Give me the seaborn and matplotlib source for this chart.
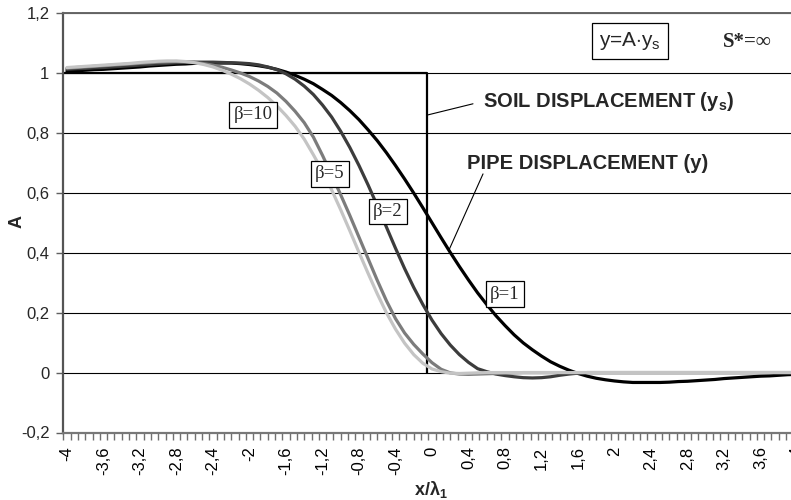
import matplotlib
matplotlib.use("Agg")
import matplotlib.pyplot as plt
import seaborn as sns

# ---------------- data ----------------
x_vals = [round(-4 + 0.1 * i, 1) for i in range(81)]   # x/lambda1 categories, -4 ... 4

y_beta1 = [1.006, 1.007, 1.009, 1.011, 1.012, 1.014, 1.016, 1.018, 1.020, 1.023,
           1.025, 1.027, 1.029, 1.030, 1.032, 1.033, 1.033, 1.033, 1.033, 1.031,
           1.028, 1.024, 1.019, 1.012, 1.003, 0.992, 0.979, 0.964, 0.945, 0.925,
           0.901, 0.874, 0.844, 0.810, 0.774, 0.734, 0.691, 0.646, 0.599, 0.550,
           0.500, 0.450, 0.401, 0.354, 0.309, 0.266, 0.227, 0.190, 0.157, 0.126,
           0.099, 0.076, 0.055, 0.036, 0.021, 0.008, -0.003, -0.012, -0.019, -0.024,
           -0.028, -0.031, -0.033, -0.033, -0.033, -0.033, -0.032, -0.030, -0.029, -0.027,
           -0.025, -0.023, -0.020, -0.018, -0.016, -0.014, -0.012, -0.011, -0.009, -0.007,
           -0.006]

y_beta2 = [1.012, 1.014, 1.015, 1.017, 1.018, 1.020, 1.022, 1.024, 1.026, 1.028,
           1.030, 1.032, 1.034, 1.035, 1.036, 1.036, 1.036, 1.035, 1.034, 1.033,
           1.031, 1.027, 1.020, 1.011, 0.997, 0.979, 0.956, 0.928, 0.893, 0.853,
           0.805, 0.751, 0.691, 0.626, 0.557, 0.486, 0.415, 0.347, 0.284, 0.227,
           0.175, 0.130, 0.092, 0.060, 0.034, 0.013, 0.003, -0.005, -0.010, -0.014,
           -0.017, -0.018, -0.017, -0.014, -0.009, -0.005, -0.002, 0.000, 0.000, 0.000,
           0.000, 0.000, 0.000, 0.000, 0.000, 0.000, 0.000, 0.000, 0.000, 0.000,
           0.000, 0.000, 0.000, 0.000, 0.000, 0.000, 0.000, 0.000, 0.000, 0.000,
           0.000]

y_beta5 = [1.016, 1.018, 1.020, 1.022, 1.024, 1.026, 1.028, 1.030, 1.032, 1.034,
           1.036, 1.037, 1.038, 1.037, 1.035, 1.031, 1.026, 1.019, 1.010, 1.000,
           0.988, 0.973, 0.955, 0.933, 0.905, 0.872, 0.834, 0.786, 0.725, 0.660,
           0.593, 0.524, 0.452, 0.380, 0.308, 0.240, 0.180, 0.132, 0.094, 0.062,
           0.033, 0.011, -0.001, -0.005, -0.006, -0.005, -0.004, -0.003, -0.002, -0.001,
           0.000, 0.000, 0.000, 0.000, 0.000, 0.000, 0.000, 0.000, 0.000, 0.000,
           0.000, 0.000, 0.000, 0.000, 0.000, 0.000, 0.000, 0.000, 0.000, 0.000,
           0.000, 0.000, 0.000, 0.000, 0.000, 0.000, 0.000, 0.000, 0.000, 0.000,
           0.000]

y_beta10 = [1.018, 1.020, 1.022, 1.024, 1.026, 1.028, 1.030, 1.032, 1.035, 1.037,
            1.039, 1.040, 1.040, 1.038, 1.034, 1.028, 1.020, 1.009, 0.996, 0.981,
            0.963, 0.942, 0.918, 0.890, 0.858, 0.822, 0.779, 0.727, 0.672, 0.610,
            0.543, 0.473, 0.401, 0.331, 0.263, 0.200, 0.145, 0.098, 0.060, 0.031,
            0.012, 0.003, -0.002, -0.003, -0.002, -0.001, 0.000, 0.000, 0.000, 0.000,
            0.000, 0.000, 0.000, 0.000, 0.000, 0.000, 0.000, 0.000, 0.000, 0.000,
            0.000, 0.000, 0.000, 0.000, 0.000, 0.000, 0.000, 0.000, 0.000, 0.000,
            0.000, 0.000, 0.000, 0.000, 0.000, 0.000, 0.000, 0.000, 0.000, 0.000,
            0.000]

soil_x = [-4.04, -0.06, -0.06]
soil_y = [1.0, 1.0, 0.0]

series_labels = ["β=1", "β=2", "β=5", "β=10"]
series_colors = ["#000000", "#3c3c3c", "#7c7c7c", "#c4c4c4"]

y_tick_vals = [-0.2, 0.0, 0.2, 0.4, 0.6, 0.8, 1.0, 1.2]
y_tick_labels = ["-0,2", "0", "0,2", "0,4", "0,6", "0,8", "1", "1,2"]
x_tick_vals = [-4.0, -3.6, -3.2, -2.8, -2.4, -2.0, -1.6, -1.2, -0.8, -0.4, 0.0,
               0.4, 0.8, 1.2, 1.6, 2.0, 2.4, 2.8, 3.2, 3.6, 4.0]
x_tick_labels = ["-4", "-3,6", "-3,2", "-2,8", "-2,4", "-2", "-1,6", "-1,2", "-0,8", "-0,4", "0",
                 "0,4", "0,8", "1,2", "1,6", "2", "2,4", "2,8", "3,2", "3,6", "4"]
x_minor_ticks = [round(-4.04 + 0.08 * i, 2) for i in range(102)]

# ---------------- style ----------------
sns.set_theme(style="white")
plt.rcParams['font.family'] = ['Liberation Sans', 'DejaVu Sans']
plt.rcParams['mathtext.fontset'] = 'custom'
plt.rcParams['mathtext.rm'] = 'Liberation Sans'
plt.rcParams['mathtext.it'] = 'Liberation Sans:italic'
plt.rcParams['mathtext.bf'] = 'Liberation Sans:bold'

W, H = 791, 500
fig = plt.figure(figsize=(W / 100, H / 100), dpi=100)
left_px, right_px, top_px, bot_px = 63.3, 800.7, 13.0, 432.5
ax = fig.add_axes([left_px / W, (H - bot_px) / H, (right_px - left_px) / W, (bot_px - top_px) / H])

# gridlines
ax.set_axisbelow(True)
ax.yaxis.grid(True, color="black", linewidth=0.8)
ax.xaxis.grid(False)

# soil displacement step
sns.lineplot(x=soil_x, y=soil_y, ax=ax, color="black", linewidth=1.6,
             sort=False, estimator=None, zorder=2)

# pipe displacement curves
for yv, c in zip([y_beta1, y_beta2, y_beta5, y_beta10], series_colors):
    sns.lineplot(x=x_vals, y=yv, ax=ax, color=c, linewidth=2.3, zorder=3)

ax.set_xlim(-4.04, 4.04)
ax.set_ylim(-0.2, 1.2)
ax.set_yticks(y_tick_vals)
ax.set_yticklabels(y_tick_labels, fontsize=12)
ax.set_xticks(x_tick_vals)
ax.set_xticklabels(x_tick_labels, fontsize=12, rotation=90)
ax.set_xticks(x_minor_ticks, minor=True)
ax.tick_params(axis='x', which='major', length=0, pad=10, colors='black')
ax.tick_params(axis='x', which='minor', length=5, width=1, color='#707070', direction='out', bottom=True)
ax.tick_params(axis='y', which='major', length=5, width=1, color='#606060', direction='out', pad=5, left=True)
ax.set_xlabel("")
ax.set_ylabel("")

for side in ["left", "bottom", "top"]:
    ax.spines[side].set_visible(True)
ax.spines["left"].set_color("#555555")
ax.spines["left"].set_linewidth(1.6)
ax.spines["bottom"].set_color("#777777")
ax.spines["bottom"].set_linewidth(1.6)
ax.spines["top"].set_color("#666666")
ax.spines["top"].set_linewidth(1.4)
ax.spines["right"].set_visible(False)

# axis titles
fig.text(17 / W, 1 - 222 / H, "A", rotation=90, fontsize=13, fontweight="bold",
         ha="center", va="center")
fig.text(431 / W, 1 - 489 / H, r"$\mathbf{x/\lambda_1}$", fontsize=13,
         ha="center", va="center")

# beta labels
box = dict(boxstyle="square,pad=0.22", fc="white", ec="black", lw=0.9)
beta_pos = [(0.80, 0.262), (-0.482, 0.537), (-1.117, 0.663), (-1.961, 0.860)]
for lab, (bx, by) in zip(series_labels, beta_pos):
    ax.text(bx, by, lab, fontsize=13.5, ha="center", va="center",
            family=["Liberation Serif", "DejaVu Serif"], bbox=box, zorder=5)

# annotations
ax.text(0.559, 0.903, r"SOIL DISPLACEMENT (y$_\mathbf{s}$)", fontsize=14.5,
        fontweight="bold", ha="left", va="center", zorder=5)
ax.text(0.386, 0.699, "PIPE DISPLACEMENT (y)", fontsize=14.5,
        fontweight="bold", ha="left", va="center", zorder=5)
ax.plot([-0.044, 0.449], [0.86, 0.897], color="black", lw=0.8, zorder=4)
ax.plot([0.559, 0.186], [0.663, 0.409], color="black", lw=0.8, zorder=4)

ax.text(2.169, 1.107, r"y=A$\cdot$y$_\mathregular{s}$", fontsize=15, ha="center", va="center",
        bbox=dict(boxstyle="square,pad=0.35", fc="white", ec="black", lw=0.9), zorder=5)
ax.text(3.19, 1.103, "S*=∞", fontsize=15, fontweight="bold", ha="left", va="center",
        family=["Liberation Serif", "DejaVu Serif"], zorder=5)

fig.savefig("out.png", dpi=100)
